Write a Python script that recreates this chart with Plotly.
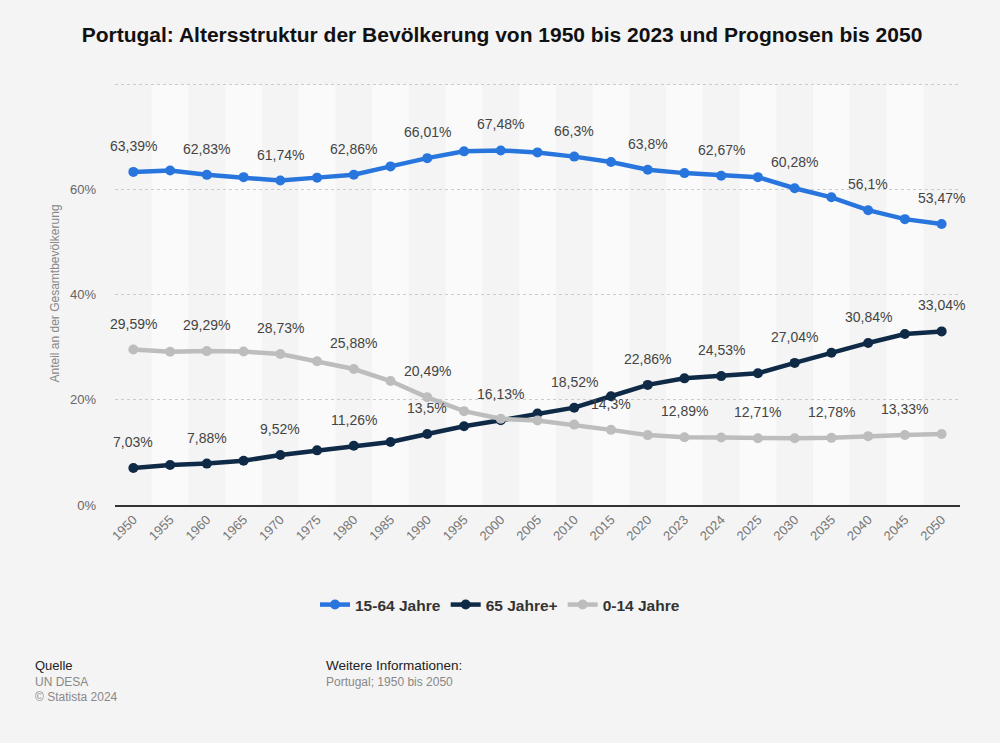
import plotly.graph_objects as go

years = ["1950", "1955", "1960", "1965", "1970", "1975", "1980", "1985", "1990", "1995",
         "2000", "2005", "2010", "2015", "2020", "2023", "2024", "2025", "2030", "2035",
         "2040", "2045", "2050"]
age_15_64 = [63.39, 63.67, 62.83, 62.39, 61.74, 62.3, 62.86, 64.44, 66.01, 67.3,
             67.48, 67.1, 66.3, 65.26, 63.8, 63.16, 62.67, 62.39, 60.28, 58.56,
             56.1, 54.4, 53.47]
age_65 = [7.03, 7.6, 7.88, 8.42, 9.52, 10.4, 11.26, 12.0, 13.5, 15.0,
          16.13, 17.4, 18.52, 20.7, 22.86, 24.1, 24.53, 25.07, 27.04, 28.96,
          30.84, 32.54, 33.04]
age_0_14 = [29.59, 29.15, 29.29, 29.2, 28.73, 27.37, 25.88, 23.6, 20.49, 17.86,
            16.4, 16.1, 15.3, 14.3, 13.3, 12.89, 12.85, 12.71, 12.7, 12.78,
            13.1, 13.33, 13.5]

labels_15_64 = [0, 2, 4, 6, 8, 10, 12, 14, 16, 18, 20, 22]
labels_65 = [0, 2, 4, 6, 8, 10, 12, 14, 16, 18, 20, 22]
labels_0_14 = [0, 2, 4, 6, 8, 13, 15, 17, 19, 21]

series = [
    ("15-64 Jahre", age_15_64, "#2876dd", labels_15_64),
    ("65 Jahre+", age_65, "#0f2a47", labels_65),
    ("0-14 Jahre", age_0_14, "#bdbdbd", labels_0_14),
]

FONT = "Liberation Sans, Arial, sans-serif"
BG = "#f4f4f4"

def fmt(v):
    s = ("%.2f" % v).rstrip("0").rstrip(".")
    return s.replace(".", ",") + "%"

fig = go.Figure()
annotations = []
for name, vals, color, idx in series:
    fig.add_trace(go.Scatter(
        x=years, y=vals, name=name, mode="lines+markers",
        line=dict(color=color, width=4.5),
        marker=dict(color=color, size=10),
        hoverinfo="skip",
    ))
    for i in idx:
        annotations.append(dict(
            x=i, y=vals[i], xref="x", yref="y", text=fmt(vals[i]),
            showarrow=False, yshift=26,
            font=dict(family=FONT, size=14, color="#444444"),
        ))

shapes = []
for i in range(1, len(years), 2):
    shapes.append(dict(
        type="rect", xref="x", yref="y", x0=i - 0.5, x1=i + 0.5, y0=0, y1=80,
        fillcolor="#fafafa", line=dict(width=0), layer="below",
    ))

L = 115  # left margin in px
Y_TOP = 80.5
TOP = 85 - 420 * (Y_TOP - 80) / 80

def foot(text, x_px, y_shift, size, color):
    return dict(text=text, xref="paper", yref="paper", x=0, xanchor="left",
                xshift=x_px - L, y=0, yanchor="middle", yshift=y_shift,
                showarrow=False, font=dict(family=FONT, size=size, color=color))

annotations += [
    foot("Quelle", 33, -160, 13, "#222222"),
    foot("UN DESA", 33, -177, 12, "#888888"),
    foot("© Statista 2024", 33, -192, 12, "#888888"),
    foot("Weitere Informationen:", 324, -160, 13.5, "#222222"),
    foot("Portugal; 1950 bis 2050", 324, -177, 12, "#888888"),
]

fig.update_layout(
    width=1000, height=743,
    paper_bgcolor=BG, plot_bgcolor=BG,
    margin=dict(l=L, r=40, t=TOP, b=238),
    font=dict(family=FONT),
    title=dict(
        text="<b>Portugal: Altersstruktur der Bevölkerung von 1950 bis 2023 und Prognosen bis 2050</b>",
        xref="container", x=0.502, xanchor="center",
        yref="container", y=1 - 35 / 743, yanchor="middle",
        font=dict(family=FONT, size=21, color="#111111"),
    ),
    showlegend=True,
    legend=dict(orientation="h", xref="container", x=0.5, xanchor="center",
                yref="container", y=1 - 605 / 743, yanchor="middle",
                font=dict(family=FONT, size=15.5, color="#333333", weight="bold"),
                bgcolor="rgba(0,0,0,0)", itemwidth=30),
    shapes=shapes,
    annotations=annotations,
    xaxis=dict(
        type="category", range=[-0.5, len(years) - 0.5],
        tickangle=-45, tickfont=dict(family=FONT, size=13, color="#777777"),
        showgrid=False, showline=True, linecolor="#333333", linewidth=2,
        ticks="", zeroline=False, fixedrange=True,
    ),
    yaxis=dict(
        range=[0, Y_TOP], tickvals=[0, 20, 40, 60, 80], ticktext=["0%", "20%", "40%", "60%", ""],
        tickfont=dict(family=FONT, size=13, color="#666666"),
        showgrid=True, gridcolor="#cccccc", griddash="dot", gridwidth=1,
        zeroline=False, ticks="", ticklabelstandoff=18, fixedrange=True,
        title=dict(text="Anteil an der Gesamtbevölkerung", standoff=7,
                   font=dict(family=FONT, size=12, color="#888888")),
    ),
)

fig.write_html(
    "out.html",
    config={"displayModeBar": False},
    post_script="document.body.style.margin='0';document.body.style.background='#f4f4f4';",
)
